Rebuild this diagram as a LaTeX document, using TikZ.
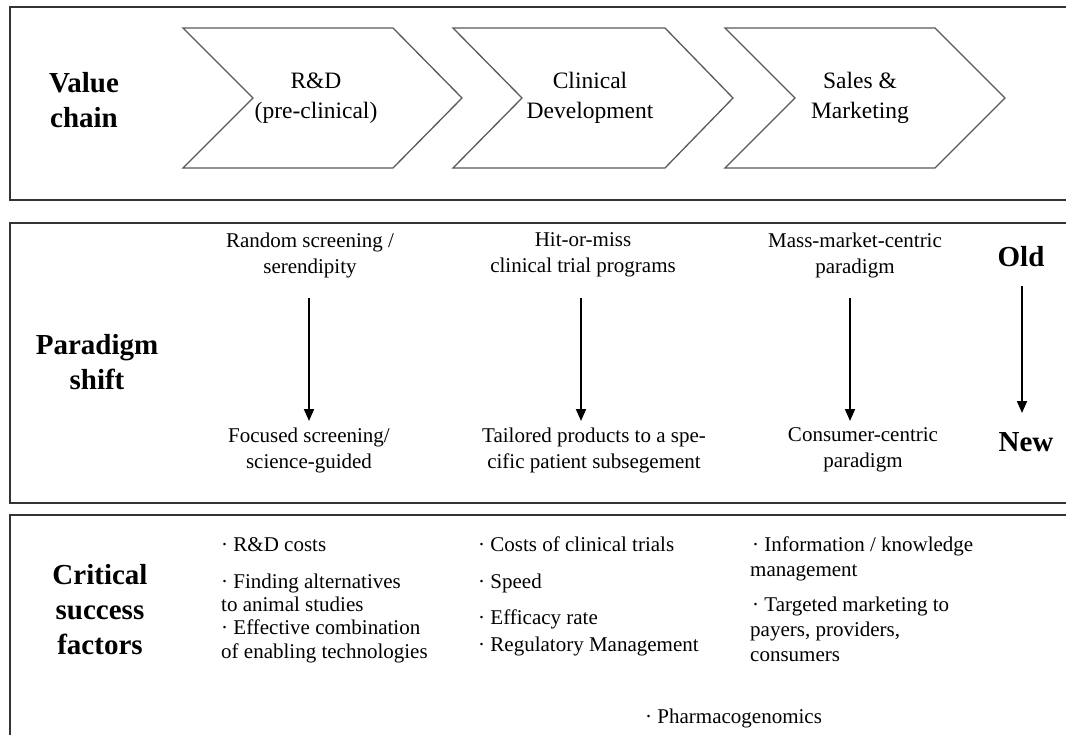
\documentclass[tikz,border=0pt]{standalone}
\usepackage{fontspec}
\setmainfont{Liberation Serif}
\usetikzlibrary{arrows.meta}
\begin{document}
\begin{tikzpicture}[x=1pt,y=-1pt,
 frame/.style={draw=black!80, line width=2pt},
 chev/.style={draw=black!65, line width=1.3pt, line join=miter},
 head/.style={font=\fontsize{29}{35}\selectfont\bfseries, align=center, inner sep=0pt},
 lbl/.style={font=\fontsize{21}{26}\selectfont, align=center, inner sep=0pt},
 chtxt/.style={font=\fontsize{23.5}{30}\selectfont, align=center, inner sep=0pt},
 item/.style={font=\fontsize{21}{24}\selectfont, anchor=base west, inner sep=0pt},
 arr/.style={line width=1.8pt, -{Triangle[length=12pt,width=10pt]}}]
\useasboundingbox (0,0) rectangle (1066,735);
\clip (0,0) rectangle (1066,735);

% frames
\draw[frame] (10,7) rectangle (1080,200);
\draw[frame] (10,223) rectangle (1080,503);
\draw[frame] (10,515) rectangle (1080,760);

% value chain
\node[head] (vc) at (84,100) {Value\\chain};
\draw[chev] (183,28) -- (393,28) -- (462,98) -- (393,168) -- (183,168) -- (253,98) -- cycle;
\draw[chev] (453,28) -- (665,28) -- (733,98) -- (665,168) -- (453,168) -- (522,98) -- cycle;
\draw[chev] (725,28) -- (935,28) -- (1005,98) -- (935,168) -- (725,168) -- (795,98) -- cycle;
\node[chtxt] (c1) at (316,98) {R\&D\\(pre-clinical)};
\node[chtxt] (c2) at (590,98) {Clinical\\Development};
\node[chtxt] (c3) at (860,98) {Sales \&\\Marketing};

% paradigm shift
\node[head] (ps) at (97,362) {Paradigm\\shift};
\node[lbl] (o1) at (310,255) {Random screening /\\serendipity};
\node[lbl] (n1) at (309,450) {Focused screening/\\science-guided};
\node[lbl] (o2) at (583,255) {Hit-or-miss\\clinical trial programs};
\node[lbl] (n2) at (594,450) {Tailored products to a spe-\\cific patient subsegement};
\node[lbl] (o3) at (855,255) {Mass-market-centric\\paradigm};
\node[lbl] (n3) at (863,450) {Consumer-centric\\paradigm};
\node[head] (old) at (1021,257) {Old};
\node[head] (new) at (1026,442) {New};

\coordinate (a1s) at (309,298); \coordinate (a1e) at (309,421);
\coordinate (a2s) at (581,298); \coordinate (a2e) at (581,421);
\coordinate (a3s) at (850,298); \coordinate (a3e) at (850,421);
\coordinate (a4s) at (1022,286); \coordinate (a4e) at (1022,413);
\draw[arr] (a1s) -- (a1e);
\draw[arr] (a2s) -- (a2e);
\draw[arr] (a3s) -- (a3e);
\draw[arr] (a4s) -- (a4e);

% critical success factors
\node[head] (csf) at (100,610) {Critical\\success\\factors};

\node[item] (i11) at (221,551) {· R\&D costs};
\node[item] (i12) at (221,588) {· Finding alternatives};
\node[item] (i12b) at (221,611) {to animal studies};
\node[item] (i13) at (221,634) {· Effective combination};
\node[item] (i13b) at (221,658) {of enabling technologies};

\node[item] (i21) at (478,551) {· Costs of clinical trials};
\node[item] (i22) at (478,588) {· Speed};
\node[item] (i23) at (478,624) {· Efficacy rate};
\node[item] (i24) at (478,651) {· Regulatory Management};

\node[item] (i31) at (752,551) {· Information / knowledge};
\node[item] (i31b) at (750,576) {management};
\node[item] (i32) at (752,611) {· Targeted marketing to};
\node[item] (i32b) at (750,636) {payers, providers,};
\node[item] (i32c) at (750,661) {consumers};

\node[item] (i4) at (645,723) {· Pharmacogenomics};
\end{tikzpicture}
\end{document}
